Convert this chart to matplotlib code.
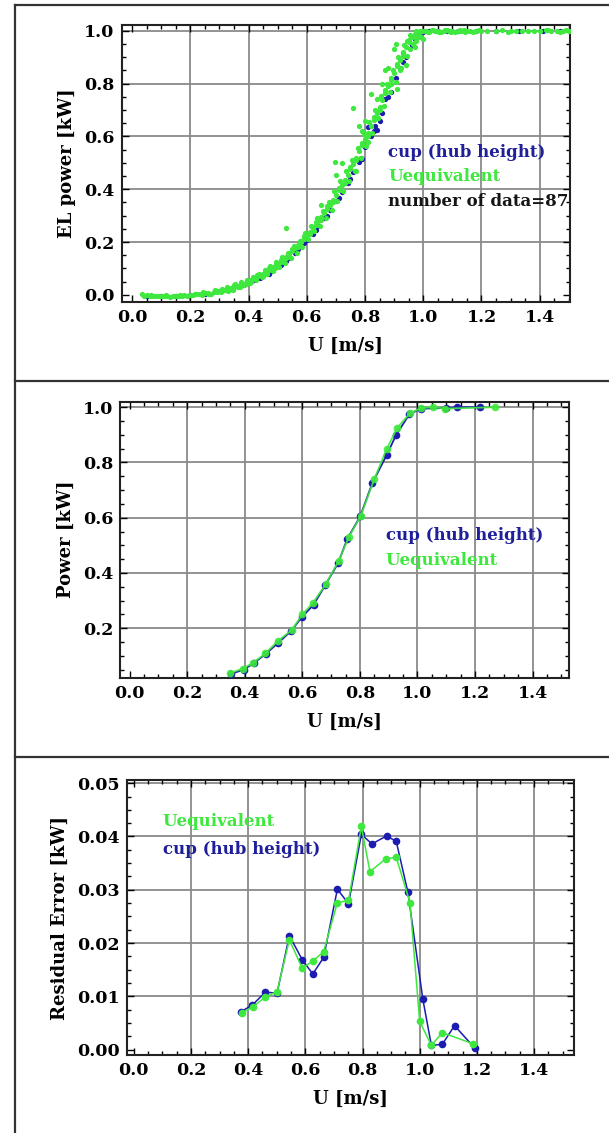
import matplotlib
matplotlib.use("Agg")
import matplotlib.pyplot as plt
from matplotlib.lines import Line2D
from matplotlib.ticker import MultipleLocator, FormatStrFormatter

# ---------------------------------------------------------------- data
# Panel 1: 10-min scatter of electrical power vs. wind speed
ueq_u = [0.04, 0.05, 0.06, 0.07, 0.08, 0.09, 0.10, 0.11, 0.12, 0.13, 0.14, 0.15, 0.16, 0.17, 0.18, 0.19,
         0.20, 0.21, 0.22, 0.23, 0.24, 0.25, 0.26, 0.27, 0.28, 0.29, 0.30, 0.31, 0.32, 0.33, 0.34, 0.35,
         0.36, 0.37, 0.38, 0.39, 0.40, 0.41, 0.42, 0.43, 0.44, 0.45, 0.46, 0.47, 0.48, 0.49, 0.50, 0.51,
         0.52, 0.53, 0.54, 0.55, 0.56, 0.57, 0.58, 0.59, 0.60, 0.61, 0.62, 0.63, 0.64, 0.65, 0.66, 0.67,
         0.68, 0.69, 0.70, 0.71, 0.72, 0.73, 0.74, 0.75, 0.76, 0.77, 0.78, 0.79, 0.80, 0.81, 0.82, 0.83,
         0.84, 0.85, 0.86, 0.87, 0.88, 0.89, 0.90, 0.91, 0.92, 0.93, 0.94, 0.95, 0.96, 0.97, 0.98, 0.99,
         0.035, 0.065, 0.115, 0.165, 0.215, 0.245, 0.265, 0.285, 0.305, 0.325, 0.345, 0.355, 0.365, 0.375,
         0.385, 0.395, 0.405, 0.415, 0.425, 0.435, 0.445, 0.455, 0.465, 0.475, 0.485, 0.495, 0.505, 0.515,
         0.525, 0.535, 0.545, 0.555, 0.565, 0.575, 0.585, 0.595, 0.605, 0.615, 0.625, 0.635, 0.645, 0.655,
         0.665, 0.675, 0.685, 0.695, 0.705, 0.715, 0.725, 0.735, 0.745, 0.755, 0.765, 0.775, 0.785, 0.795,
         0.805, 0.815, 0.825, 0.835, 0.845, 0.855, 0.865, 0.875, 0.885, 0.895, 0.905, 0.915, 0.925, 0.935,
         0.945, 0.955, 0.965, 0.975, 0.985,
         0.31, 0.33, 0.35, 0.37, 0.39, 0.41, 0.43, 0.45, 0.47, 0.49, 0.51, 0.53, 0.55, 0.57, 0.59, 0.61,
         0.63, 0.65, 0.67, 0.69, 0.71, 0.73, 0.75, 0.77, 0.79, 0.81, 0.83, 0.85, 0.87, 0.89, 0.91, 0.93,
         0.95, 0.97,
         0.527, 0.696, 0.700, 0.760, 0.650, 0.720, 0.780, 0.867, 0.890, 0.900, 0.930, 0.940, 0.950, 0.970,
         0.820, 0.840, 0.860, 0.880, 0.910, 0.920, 0.790, 0.800, 0.810, 0.770, 0.905, 0.945, 0.955, 0.990,
         1.000, 0.975,
         1.00, 1.01, 1.02, 1.03, 1.04, 1.05, 1.06, 1.07, 1.08, 1.09, 1.10, 1.11, 1.12, 1.13, 1.14, 1.15,
         1.16, 1.17, 1.18, 1.20, 1.22, 1.25, 1.27, 1.30, 1.32, 1.34, 1.36, 1.38, 1.40, 1.42, 1.44, 1.46,
         1.48, 1.50, 1.015, 1.035, 1.055, 1.075, 1.095, 1.125, 1.145, 1.19, 1.29, 1.43, 1.47, 1.49]
ueq_p = [-0.004, -0.002, -0.006, -0.003, -0.005, -0.004, -0.006, -0.003, -0.005, -0.007, -0.004, -0.006,
         -0.003, -0.005, -0.002, -0.004, 0.000, -0.002, 0.002, 0.004, 0.001, 0.006, 0.008, 0.005, 0.012,
         0.010, 0.016, 0.014, 0.020, 0.022, 0.026, 0.030, 0.033, 0.038, 0.042, 0.046, 0.052, 0.058, 0.062,
         0.068, 0.075, 0.080, 0.088, 0.095, 0.100, 0.108, 0.118, 0.126, 0.135, 0.145, 0.155, 0.165, 0.176,
         0.188, 0.200, 0.212, 0.225, 0.238, 0.252, 0.266, 0.280, 0.295, 0.310, 0.326, 0.342, 0.360, 0.378,
         0.396, 0.415, 0.434, 0.455, 0.475, 0.497, 0.520, 0.543, 0.566, 0.590, 0.614, 0.638, 0.662, 0.688,
         0.712, 0.738, 0.763, 0.790, 0.815, 0.840, 0.865, 0.890, 0.915, 0.938, 0.958, 0.975, 0.988, 0.996,
         1.000,
         0.002, 0.001, 0.000, -0.001, 0.004, 0.009, 0.003, 0.018, 0.010, 0.028, 0.020, 0.040, 0.028, 0.048,
         0.036, 0.058, 0.044, 0.068, 0.055, 0.080, 0.066, 0.095, 0.078, 0.108, 0.090, 0.125, 0.105, 0.142,
         0.122, 0.160, 0.140, 0.185, 0.160, 0.205, 0.182, 0.235, 0.210, 0.262, 0.240, 0.290, 0.262, 0.318,
         0.290, 0.352, 0.322, 0.392, 0.355, 0.430, 0.395, 0.470, 0.430, 0.510, 0.470, 0.558, 0.520, 0.608,
         0.565, 0.655, 0.612, 0.700, 0.668, 0.752, 0.715, 0.800, 0.770, 0.850, 0.805, 0.900, 0.860, 0.945,
         0.905, 0.985, 0.950, 1.000, 0.975,
         0.024, 0.016, 0.036, 0.030, 0.040, 0.050, 0.075, 0.072, 0.102, 0.100, 0.132, 0.138, 0.172, 0.180,
         0.222, 0.230, 0.275, 0.285, 0.335, 0.350, 0.405, 0.425, 0.485, 0.510, 0.575, 0.600, 0.675, 0.700,
         0.775, 0.800, 0.875, 0.905, 0.965, 0.975,
         0.252, 0.504, 0.455, 0.706, 0.340, 0.500, 0.640, 0.851, 0.820, 0.930, 0.920, 0.870, 0.960, 0.940,
         0.760, 0.740, 0.800, 0.860, 0.780, 0.850, 0.620, 0.660, 0.580, 0.470, 0.950, 0.960, 0.930, 0.980,
         0.970, 0.960,
         0.998, 1.000, 0.996, 1.002, 0.999, 1.001, 0.997, 1.000, 1.002, 0.998, 1.000, 0.996, 1.001, 0.999,
         1.002, 0.998, 1.000, 0.997, 1.001, 0.999, 1.000, 0.998, 1.002, 1.000, 0.999, 1.001, 0.998, 1.000,
         0.999, 1.002, 1.000, 0.998, 1.001, 0.999, 0.994, 1.003, 0.995, 1.003, 0.996, 1.003, 0.995, 1.003,
         0.997, 1.002, 0.996, 1.003]

cup_u = [0.05, 0.10, 0.15, 0.20, 0.25, 0.30, 0.34, 0.38, 0.42, 0.45, 0.48, 0.51, 0.54, 0.57, 0.60, 0.62,
         0.64, 0.66, 0.68, 0.70, 0.72, 0.74, 0.76, 0.78, 0.786, 0.80, 0.81, 0.83, 0.85, 0.87, 0.89, 0.905,
         0.92, 0.94, 0.96, 0.97, 0.99, 1.00, 1.02, 1.05, 1.08, 1.12, 1.18, 1.25, 1.33, 1.41, 1.47,
         0.44, 0.47, 0.53, 0.56, 0.59, 0.63, 0.67, 0.71, 0.75, 0.79, 0.82, 0.835, 0.84, 0.86, 0.88, 0.93]
cup_p = [-0.004, -0.005, -0.004, -0.002, 0.004, 0.013, 0.022, 0.036, 0.055, 0.072, 0.090, 0.112, 0.140,
         0.172, 0.208, 0.232, 0.262, 0.292, 0.322, 0.355, 0.390, 0.425, 0.465, 0.505, 0.520, 0.560, 0.637,
         0.620, 0.660, 0.740, 0.770, 0.820, 0.860, 0.900, 0.945, 0.970, 0.985, 0.995, 0.998, 1.000, 0.999,
         1.000, 1.000, 0.999, 1.000, 1.000, 0.999,
         0.062, 0.080, 0.130, 0.160, 0.195, 0.245, 0.300, 0.365, 0.440, 0.515, 0.600, 0.640, 0.625, 0.690,
         0.750, 0.880]

n_data_label = "number of data=87"

# Panel 2: bin-averaged power curves
bin_ueq_u = [0.349, 0.394, 0.430, 0.472, 0.515, 0.563, 0.600, 0.637, 0.681, 0.726, 0.761, 0.803,
             0.850, 0.893, 0.930, 0.974, 1.012, 1.055, 1.096, 1.268]
bin_ueq_p = [0.038, 0.054, 0.076, 0.109, 0.154, 0.193, 0.250, 0.292, 0.359, 0.443, 0.529, 0.607,
             0.740, 0.849, 0.926, 0.978, 0.997, 1.000, 0.995, 1.000]
bin_cup_u = [0.352, 0.396, 0.433, 0.474, 0.517, 0.561, 0.598, 0.639, 0.679, 0.724, 0.756, 0.801,
             0.843, 0.893, 0.926, 0.972, 1.012, 1.098, 1.136, 1.217]
bin_cup_p = [0.035, 0.050, 0.075, 0.108, 0.148, 0.190, 0.240, 0.285, 0.355, 0.435, 0.523, 0.605,
             0.725, 0.827, 0.900, 0.975, 0.995, 0.997, 1.000, 1.000]

# Panel 3: residual error of the bins
res_ueq_u = [0.377, 0.418, 0.460, 0.501, 0.544, 0.589, 0.626, 0.664, 0.712, 0.751, 0.796, 0.826,
             0.881, 0.918, 0.966, 1.000, 1.041, 1.079, 1.187]
res_ueq_e = [0.0068, 0.0081, 0.0099, 0.0109, 0.0206, 0.0153, 0.0166, 0.0184, 0.0276, 0.0280,
             0.0419, 0.0334, 0.0358, 0.0361, 0.0276, 0.0053, 0.0008, 0.0032, 0.0011]
res_cup_u = [0.374, 0.415, 0.460, 0.501, 0.544, 0.589, 0.626, 0.664, 0.712, 0.751, 0.796, 0.833,
             0.884, 0.918, 0.959, 1.011, 1.041, 1.079, 1.122, 1.193]
res_cup_e = [0.0071, 0.0084, 0.0108, 0.0106, 0.0214, 0.0169, 0.0142, 0.0173, 0.0301, 0.0274,
             0.0404, 0.0386, 0.0401, 0.0391, 0.0295, 0.0095, 0.0008, 0.0010, 0.0045, 0.0003]

label_cup = "cup (hub height)"
label_ueq = "Uequivalent"

# grid positions (no grid line on the zero lines)
x_grid = [0.2, 0.4, 0.6, 0.8, 1.0, 1.2, 1.4]
p_grid = [0.2, 0.4, 0.6, 0.8, 1.0]
e_grid = [0.01, 0.02, 0.03, 0.04, 0.05]

# ---------------------------------------------------------------- style
BLUE = "#1c1cb0"
BLUE_TXT = "#1f1f9c"
GREEN = "#3ee83e"
GRID = "#8a8a8a"

plt.rcParams["font.family"] = "DejaVu Serif"
plt.rcParams["font.weight"] = "bold"

W, H = 609, 1133
fig = plt.figure(figsize=(W / 100, H / 100), dpi=100)


def box(l, t, r, b):
    """Axes rectangle from pixel edges (origin top-left)."""
    return [l / W, 1 - b / H, (r - l) / W, (b - t) / H]


def hline(y, x0, x1):
    fig.add_artist(Line2D([x0 / W, x1 / W], [1 - y / H, 1 - y / H], color="#333333", lw=1.6,
                          transform=fig.transFigure))


def vline(x, y0, y1):
    fig.add_artist(Line2D([x / W, x / W], [1 - y0 / H, 1 - y1 / H], color="#333333", lw=1.6,
                          transform=fig.transFigure))


def frame(ax, xlim, ylim, ymajor, yminor, yfmt, ylabel, ygrid):
    ax.set_xlim(*xlim)
    ax.set_ylim(*ylim)
    ax.xaxis.set_major_locator(MultipleLocator(0.2))
    ax.xaxis.set_minor_locator(MultipleLocator(0.05))
    ax.yaxis.set_major_locator(MultipleLocator(ymajor))
    ax.yaxis.set_minor_locator(MultipleLocator(yminor))
    ax.xaxis.set_major_formatter(FormatStrFormatter("%.1f"))
    ax.yaxis.set_major_formatter(FormatStrFormatter(yfmt))
    ax.tick_params(which="both", direction="in", top=True, right=True, colors="black",
                   labelsize=12.5, width=1.0, pad=5)
    ax.tick_params(which="major", length=5)
    ax.tick_params(which="minor", length=3)
    for lab in ax.get_xticklabels() + ax.get_yticklabels():
        lab.set_fontweight("bold")
    for g in x_grid:
        ax.axvline(g, color=GRID, lw=1.3, zorder=1)
    for g in ygrid:
        ax.axhline(g, color=GRID, lw=1.3, zorder=1)
    for s in ax.spines.values():
        s.set_linewidth(1.5)
        s.set_color("#222222")
    ax.set_xlabel("U [m/s]", fontsize=13, fontweight="bold", labelpad=8)
    ax.set_ylabel(ylabel, fontsize=13, fontweight="bold", labelpad=6)


# outer frame and panel separators
vline(15, 5, H)
hline(5, 15, W)
hline(381, 15, W)
hline(757, 15, W)

# ---------------------------------------------------------------- panel 1
ax1 = fig.add_axes(box(121.6, 25, 569.7, 302))
ax1.plot(cup_u, cup_p, "o", color=BLUE, ms=3.8, mec="none", zorder=3)
ax1.plot(ueq_u, ueq_p, "o", color=GREEN, ms=3.8, mec="none", zorder=4)
frame(ax1, (-0.036, 1.503), (-0.027, 1.022), 0.2, 0.05, "%.1f", "EL power [kW]", p_grid)
ax1.text(0.879, 0.54, label_cup, color=BLUE_TXT, fontsize=12, fontweight="bold", va="center", zorder=5)
ax1.text(0.879, 0.45, label_ueq, color=GREEN, fontsize=12, fontweight="bold", va="center", zorder=5)
ax1.text(0.879, 0.352, n_data_label, color="#151515", fontsize=12, fontweight="bold", va="center",
         clip_on=True, zorder=5)

# ---------------------------------------------------------------- panel 2
ax2 = fig.add_axes(box(120.4, 401.7, 568.9, 677.7))
ax2.plot(bin_cup_u, bin_cup_p, "-o", color=BLUE, lw=1.3, ms=5.5, mec="none", zorder=3)
ax2.plot(bin_ueq_u, bin_ueq_p, "-o", color=GREEN, lw=1.3, ms=5.5, mec="none", zorder=4, alpha=0.9)
frame(ax2, (-0.032, 1.526), (0.021, 1.02), 0.2, 0.05, "%.1f", "Power [kW]", p_grid)
ax2.text(0.89, 0.537, label_cup, color=BLUE_TXT, fontsize=12, fontweight="bold", va="center", zorder=5)
ax2.text(0.89, 0.447, label_ueq, color=GREEN, fontsize=12, fontweight="bold", va="center", zorder=5)

# ---------------------------------------------------------------- panel 3
ax3 = fig.add_axes(box(127, 780, 574, 1055))
ax3.plot(res_cup_u, res_cup_e, "-o", color=BLUE, lw=1.1, ms=5.5, mec="none", zorder=3)
ax3.plot(res_ueq_u, res_ueq_e, "-o", color=GREEN, lw=1.1, ms=5.5, mec="none", zorder=4)
frame(ax3, (-0.024, 1.54), (-0.001, 0.0506), 0.01, 0.0025, "%.2f", "Residual Error [kW]", e_grid)
ax3.text(0.1015, 0.0428, label_ueq, color=GREEN, fontsize=12, fontweight="bold", va="center", zorder=5)
ax3.text(0.1015, 0.0376, label_cup, color=BLUE_TXT, fontsize=12, fontweight="bold", va="center", zorder=5)

fig.savefig("out.png", dpi=100, facecolor="white")
